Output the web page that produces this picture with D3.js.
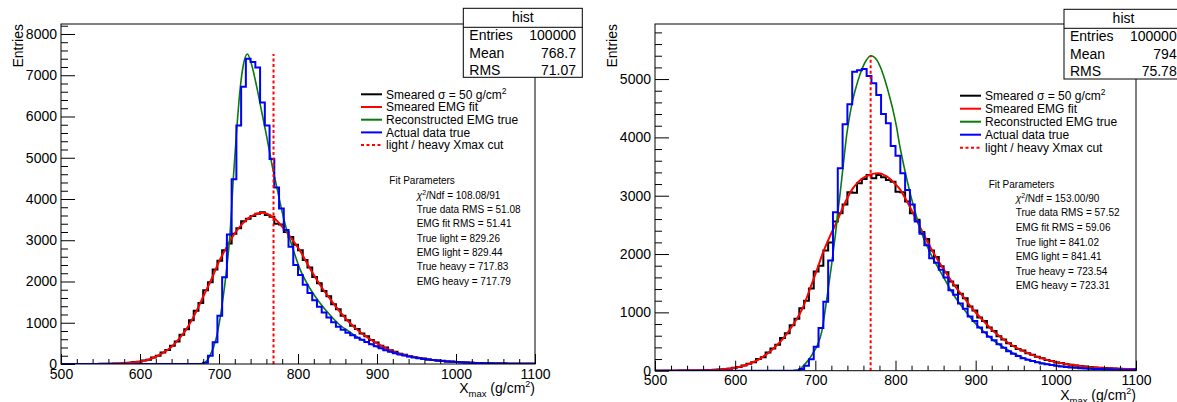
<!DOCTYPE html>
<html><head><meta charset="utf-8">
<script src="https://cdn.jsdelivr.net/npm/d3@7"></script>
<style>
body{margin:0;background:#fff}
text{font-family:"Liberation Sans",Arial,Helvetica,sans-serif;fill:#000}
</style>
</head><body>
<svg id="c" width="1177" height="402"></svg>
<script>
// ---------- data ----------
const BIN_START = 500, BIN_END = 1100, BIN_WIDTH = 6;
const xMajorTicks = [500, 600, 700, 800, 900, 1000, 1100];
const yMajorTicks1 = [0, 1000, 2000, 3000, 4000, 5000, 6000, 7000, 8000];
const yMajorTicks2 = [0, 1000, 2000, 3000, 4000, 5000];

// panel 1 histograms (100 bins, 500..1100, width 6)
const smeared1 = [0,0,0,1,0,2,1,3,5,6,
  8,11,14,24,30,46,55,84,106,157,
  200,276,338,445,548,712,840,1062,1290,1480,
  1790,1980,2290,2500,2760,2920,3160,3290,3460,3520,
  3590,3640,3680,3610,3570,3400,3380,3200,3080,2890,
  2760,2520,2340,2110,1960,1770,1640,1450,1330,1170,
  1060,930,850,740,670,580,520,445,400,335,
  296,250,226,190,172,148,134,112,100,84,
  77,63,58,47,43,35,32,25,23,17,
  16,12,11,10,9,7,7,5,5,4];
const actual1 = [0,0,0,0,0,0,0,0,0,0,
  0,0,0,0,0,0,0,0,0,0,
  0,0,0,0,0,0,0,0,0,0,
  30,200,530,1170,2100,3140,4480,5780,6720,7400,
  7320,7190,6340,5780,4970,4280,3770,3250,2840,2400,
  2160,1920,1720,1545,1390,1250,1125,1010,905,830,
  760,695,635,585,535,480,430,380,335,295,
  260,230,205,182,160,140,124,108,95,82,
  72,63,55,48,41,36,31,27,23,20,
  17,15,13,11,9,8,7,6,5,4];
// panel 1 curves
const fitX1 = [500,540,560,580,600,610,620,630,640,650,660,670,680,690,700,710,720,730,740,750,756,762,770,780,790,802,815,828,840,853,866,878,900,921,950,971,1000,1039,1070,1100];
const fitY1 = [0,2,6,22,60,105,175,280,420,622,881,1228,1632,2036,2481,2844,3168,3410,3572,3653,3665,3630,3532,3329,3087,2764,2319,1915,1592,1269,986,784,501,299,162,97,48,16,8,3];
const trueX1 = [500,670,676,680,688,697,703,710,714,718,722.4,726.6,730.8,735.9,741.4,747.7,754,760.4,766.7,773,779.4,785.7,790,802.5,815,828,840.5,853,866,878,900,921,950,971,1000,1039,1100];
const trueY1 = [0,0,3,16,178,662,1309,2359,3168,4461,5673,6642,7248,7515,7248,6723,6117,5511,4865,4299,3733,3248,3006,2300,1836,1473,1188,945,770,622,420,275,154,97,48,16,8];

// panel 2 histograms
const smeared2 = [0,0,1,0,1,2,3,2,5,4,
  8,12,18,22,27,34,50,62,90,120,
  143,200,232,310,380,445,560,640,780,890,
  1070,1200,1410,1700,1800,2060,2200,2560,2700,2850,
  3060,3050,3212,3286,3355,3300,3355,3315,3270,3240,
  3070,3060,2900,2700,2590,2380,2260,2060,1950,1790,
  1690,1530,1460,1320,1240,1100,1030,910,850,740,
  680,590,535,470,425,372,345,300,272,238,
  215,182,168,142,130,112,104,88,81,70,
  63,54,51,45,43,37,35,30,28,25];
const actual2 = [0,0,0,0,0,0,0,0,0,0,
  0,0,0,0,0,0,0,0,0,0,
  0,0,0,0,0,0,0,0,0,5,
  29,86,195,412,732,1183,1890,2716,3470,4225,
  4567,5126,5150,5172,5052,4927,4727,4401,4241,3852,
  3686,3384,3100,2850,2560,2350,2150,1930,1850,1730,
  1600,1380,1300,1150,1060,930,850,740,660,580,
  520,455,395,335,290,250,215,188,165,143,
  125,110,96,84,74,65,57,50,44,39,
  35,31,28,25,23,21,19,17,16,15];
const fitX2 = [500,540,560,573,586,598,608,618,627,635,648,660,672,685,693,701,710,718,727,735,747,758,768,778,789,799,805,812,822,835,847,860,872,885,897,910,922,935,947,968,989,1009,1030,1051,1072,1100];
const fitY2 = [0,3,6,14,25,45,75,120,175,240,384,555,783,1100,1390,1690,2040,2300,2560,2820,3130,3290,3360,3385,3330,3210,3120,2960,2700,2340,2030,1740,1490,1260,1045,850,680,535,420,285,185,122,80,52,36,24];
const trueX2 = [500,672,680,685,690,693,697,702,708,714,720,725,729,731,735,739,743,747,751,756,760,764,769,773,777,781,785,789,793,797,801,805,810,815,820,825,830,835,841,847,860,872,885,897,910,922,935,947,968,989,1009,1030,1050,1072,1100];
const trueY2 = [0,0,15,86,160,212,300,420,669,1200,1790,2330,2820,3050,3550,4030,4380,4660,4870,5090,5230,5330,5400,5380,5320,5210,5060,4880,4680,4460,4200,3880,3540,3230,2950,2700,2470,2270,2090,1920,1600,1310,1060,850,670,520,400,300,180,115,75,48,32,21,12];

const cutValue = [769, 769];
const cutTop = [7515, 5400];

const legendLabels = ["Smeared \u03c3 = 50 g/cm", "Smeared EMG fit", "Reconstructed EMG true", "Actual data true", "light / heavy Xmax cut"];
const statsLabels = ["Entries", "Mean", "RMS"];
const statsValues1 = ["100000", "768.7", "71.07"];
const statsValues2 = ["100000", "794", "75.78"];
const fitLines1 = ["108.08/91", "True data RMS = 51.08", "EMG fit RMS = 51.41", "True light = 829.26", "EMG light = 829.44", "True heavy = 717.83", "EMG heavy = 717.79"];
const fitLines2 = ["153.00/90", "True data RMS = 57.52", "EMG fit RMS = 59.06", "True light = 841.02", "EMG light = 841.41", "True heavy = 723.54", "EMG heavy = 723.31"];

// ---------- drawing ----------
const COL = {black:"#000000", red:"#ff0000", green:"#0a7a0a", blue:"#0000ff"};
const svg = d3.select("#c");
const binLow = d3.range(BIN_START, BIN_END, BIN_WIDTH);

function drawPanel(p, idx) {
  const x = d3.scaleLinear().domain([BIN_START, BIN_END]).range([p.left, p.right]);
  const y = d3.scaleLinear().domain([0, p.ymax]).range([p.bottom, p.top]);
  const g = svg.append("g");
  const cid = "clip" + idx;
  svg.append("clipPath").attr("id", cid).append("rect")
    .attr("x", p.left).attr("y", p.top).attr("width", p.right - p.left).attr("height", p.bottom - p.top);
  const plot = g.append("g").attr("clip-path", `url(#${cid})`);

  const step = d3.line().x(d => x(d[0])).y(d => y(d[1])).curve(d3.curveStepAfter);
  const smooth = d3.line().x(d => x(d[0])).y(d => y(d[1])).curve(d3.curveMonotoneX);
  const histPts = arr => { const a = arr.map((c, i) => [binLow[i], c]); a.push([BIN_END, arr[arr.length - 1]]); return a; };

  plot.append("path").attr("d", step(histPts(p.smeared))).attr("fill", "none")
    .attr("stroke", COL.black).attr("stroke-width", 2);
  plot.append("path").attr("d", smooth(p.fitX.map((v, i) => [v, p.fitY[i]]))).attr("fill", "none")
    .attr("stroke", COL.red).attr("stroke-width", 2);
  plot.append("path").attr("d", smooth(p.trueX.map((v, i) => [v, p.trueY[i]]))).attr("fill", "none")
    .attr("stroke", COL.green).attr("stroke-width", 1.6);
  plot.append("path").attr("d", step(histPts(p.actual))).attr("fill", "none")
    .attr("stroke", COL.blue).attr("stroke-width", 2);
  plot.append("line").attr("x1", x(p.cut)).attr("x2", x(p.cut)).attr("y1", y(0)).attr("y2", y(p.cutTop))
    .attr("stroke", COL.red).attr("stroke-width", 2).attr("stroke-dasharray", "3,2.5");

  // axes (ticks inside the frame, as ROOT)
  const xMinor = d3.range(BIN_START, BIN_END + 1, 20).filter(v => v % 100 !== 0);
  const yMinor = d3.range(0, p.ymax, 200).filter(v => v % 1000 !== 0);
  const ax = g.append("g").attr("transform", `translate(0,${p.bottom})`);
  ax.call(d3.axisBottom(x).tickValues(xMajorTicks).tickSize(-10).tickPadding(4.7).tickFormat(d3.format("d")));
  const axm = g.append("g").attr("transform", `translate(0,${p.bottom})`);
  axm.call(d3.axisBottom(x).tickValues(xMinor).tickSize(-5).tickFormat(""));
  const ay = g.append("g").attr("transform", `translate(${p.left},0)`);
  ay.call(d3.axisLeft(y).tickValues(p.yTicks).tickSize(-14).tickPadding(4).tickFormat(d3.format("d")));
  const aym = g.append("g").attr("transform", `translate(${p.left},0)`);
  aym.call(d3.axisLeft(y).tickValues(yMinor).tickSize(-7).tickFormat(""));
  [ax, axm, ay, aym].forEach(a => {
    a.select(".domain").remove();
    a.selectAll(".tick line").attr("stroke", "#000").attr("stroke-width", 1);
    a.selectAll("text").attr("font-size", 14).attr("fill", "#000")
      .style("font-family", '"Liberation Sans",Arial,sans-serif');
  });

  // frame
  g.append("rect").attr("x", p.left).attr("y", p.top).attr("width", p.right - p.left)
    .attr("height", p.bottom - p.top).attr("fill", "none").attr("stroke", "#000").attr("stroke-width", 1);

  // axis titles
  g.append("text").attr("transform", `translate(${p.left - 38},${p.top}) rotate(-90)`)
    .attr("text-anchor", "end").attr("font-size", 14).text("Entries");
  const xt = g.append("text").attr("x", p.right).attr("y", p.bottom + 29.3).attr("text-anchor", "end").attr("font-size", 14);
  xt.append("tspan").text("X");
  xt.append("tspan").attr("font-size", 9.5).attr("dy", 3.5).text("max");
  xt.append("tspan").attr("dy", -3.5).text(" (g/cm");
  xt.append("tspan").attr("font-size", 9).attr("dy", -6).text("2");
  xt.append("tspan").attr("dy", 6).text(")");

  // stats box
  const sb = p.stats;
  g.append("rect").attr("x", sb.x).attr("y", sb.y).attr("width", 119).attr("height", sb.h)
    .attr("fill", "#fff").attr("stroke", "#000").attr("stroke-width", 1);
  g.append("line").attr("x1", sb.x).attr("x2", sb.x + 119).attr("y1", sb.y + 19).attr("y2", sb.y + 19)
    .attr("stroke", "#000").attr("stroke-width", 1);
  g.append("text").attr("x", sb.x + 59.5).attr("y", sb.y + 14).attr("text-anchor", "middle").attr("font-size", 14).text("hist");
  statsLabels.forEach((l, i) => {
    const yy = sb.y + 31.7 + i * 17.5;
    g.append("text").attr("x", sb.x + 6).attr("y", yy).attr("font-size", 14).text(l);
    g.append("text").attr("x", sb.x + 112.7).attr("y", yy).attr("text-anchor", "end").attr("font-size", 14).text(p.statsValues[i]);
  });

  // legend
  const lg = p.legend;
  const styles = [[COL.black, null], [COL.red, null], [COL.green, null], [COL.blue, null], [COL.red, "3,2.5"]];
  legendLabels.forEach((lab, i) => {
    const yy = lg.y + i * lg.dy;
    const ln = g.append("line").attr("x1", lg.x).attr("x2", lg.x + 21).attr("y1", yy).attr("y2", yy)
      .attr("stroke", styles[i][0]).attr("stroke-width", 2);
    if (styles[i][1]) ln.attr("stroke-dasharray", styles[i][1]);
    const t = g.append("text").attr("x", lg.x + 25).attr("y", yy + 4.3).attr("font-size", 12).text(lab);
    if (i === 0) t.append("tspan").attr("font-size", 8.5).attr("dy", -5).text("2");
  });

  // fit parameters
  const fp = p.fit;
  g.append("text").attr("x", fp.x0).attr("y", fp.y0 + 3.6).attr("font-size", 10).text("Fit Parameters");
  p.fitLines.forEach((l, i) => {
    const yy = fp.y1 + i * fp.dy + 3.6;
    const t = g.append("text").attr("x", fp.x1).attr("y", yy).attr("font-size", 10);
    if (i === 0) {
      t.append("tspan").attr("font-style", "italic").text("\u03c7");
      t.append("tspan").attr("font-size", 7).attr("dy", -4).text("2");
      t.append("tspan").attr("dy", 4).text("/Ndf = " + l);
    } else t.text(l);
  });
}

drawPanel({left:61, right:535, top:24, bottom:364, ymax:8242, yTicks:yMajorTicks1,
  smeared:smeared1, actual:actual1, fitX:fitX1, fitY:fitY1, trueX:trueX1, trueY:trueY1,
  cut:cutValue[0], cutTop:cutTop[0], statsValues:statsValues1,
  stats:{x:463.3, y:8.3, h:69}, legend:{x:361, y:94.3, dy:12.7},
  fit:{x0:389.3, y0:180.7, x1:416.7, y1:195.2, dy:14.3}, fitLines:fitLines1}, 1);

drawPanel({left:655, right:1136, top:24, bottom:370.7, ymax:5944, yTicks:yMajorTicks2,
  smeared:smeared2, actual:actual2, fitX:fitX2, fitY:fitY2, trueX:trueX2, trueY:trueY2,
  cut:cutValue[1], cutTop:cutTop[1], statsValues:statsValues2,
  stats:{x:1064, y:9.3, h:69.7}, legend:{x:960, y:95.7, dy:13},
  fit:{x0:988.7, y0:184, x1:1015.7, y1:198.3, dy:14.55}, fitLines:fitLines2}, 2);
</script>
</body></html>
